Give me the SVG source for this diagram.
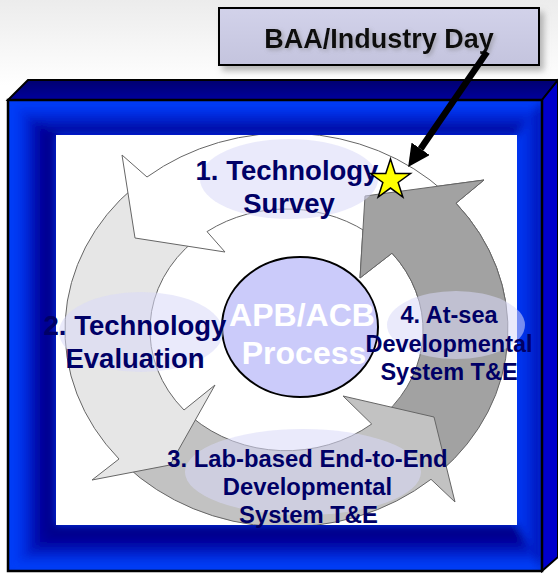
<svg xmlns="http://www.w3.org/2000/svg" width="558" height="573" viewBox="0 0 558 573">
<style>
.band{stroke:#666;stroke-width:1}
.lbl{fill:#d8d8f8;fill-opacity:0.55}
.t{font-family:"Liberation Sans",Arial,sans-serif;font-weight:bold;fill:#000066;text-anchor:middle}
.edge{stroke:#000;stroke-width:2.5;fill:none}
</style>
<defs>
<linearGradient id="bg" x1="0" y1="0" x2="0" y2="1">
<stop offset="0" stop-color="#ececec"/><stop offset="0.15" stop-color="#ffffff"/>
</linearGradient>
<linearGradient id="gL" x1="8" y1="0" x2="56" y2="0" gradientUnits="userSpaceOnUse">
<stop offset="0" stop-color="#0044ff"/><stop offset="0.3" stop-color="#0030e8"/><stop offset="0.7" stop-color="#000099"/><stop offset="1" stop-color="#000088"/>
</linearGradient>
<linearGradient id="gT" x1="0" y1="100" x2="0" y2="135" gradientUnits="userSpaceOnUse">
<stop offset="0" stop-color="#0044ff"/><stop offset="0.35" stop-color="#0030e8"/><stop offset="1" stop-color="#000090"/>
</linearGradient>
<linearGradient id="gB" x1="0" y1="525" x2="0" y2="571" gradientUnits="userSpaceOnUse">
<stop offset="0" stop-color="#000080"/><stop offset="0.35" stop-color="#000099"/><stop offset="0.8" stop-color="#0038f0"/><stop offset="1" stop-color="#0044ff"/>
</linearGradient>
<linearGradient id="gR" x1="517" y1="0" x2="542" y2="0" gradientUnits="userSpaceOnUse">
<stop offset="0" stop-color="#0036f4"/><stop offset="0.6" stop-color="#0028d8"/><stop offset="1" stop-color="#0000a0"/>
</linearGradient>
<linearGradient id="gTop" x1="0" y1="80" x2="0" y2="100" gradientUnits="userSpaceOnUse">
<stop offset="0" stop-color="#000070"/><stop offset="1" stop-color="#00009c"/>
</linearGradient>
<linearGradient id="gBox" x1="0" y1="0" x2="0" y2="1">
<stop offset="0" stop-color="#d2d2ea"/><stop offset="1" stop-color="#c4c4de"/>
</linearGradient>
<filter id="soft" x="-5%" y="-5%" width="110%" height="110%">
<feGaussianBlur stdDeviation="4"/>
</filter>
<filter id="shadow" x="-10%" y="-20%" width="130%" height="160%">
<feGaussianBlur in="SourceAlpha" stdDeviation="3"/>
<feOffset dx="4" dy="5" result="b"/>
<feFlood flood-color="#888" flood-opacity="0.6"/>
<feComposite in2="b" operator="in"/>
<feMerge><feMergeNode/><feMergeNode in="SourceGraphic"/></feMerge>
</filter>
<filter id="tshadow" x="-10%" y="-30%" width="120%" height="160%">
<feGaussianBlur in="SourceAlpha" stdDeviation="2"/>
<feOffset dx="2" dy="2" result="b"/>
<feFlood flood-color="#777" flood-opacity="0.5"/>
<feComposite in2="b" operator="in"/>
<feMerge><feMergeNode/><feMergeNode in="SourceGraphic"/></feMerge>
</filter>
<clipPath id="front"><rect x="8" y="100" width="534" height="471"/></clipPath>
<clipPath id="inner"><rect x="56" y="135" width="461" height="390"/></clipPath>
<clipPath id="tr"><rect x="340" y="140" width="180" height="160"/></clipPath>
<marker id="head" viewBox="0 -11 22 22" refX="0" refY="0" markerWidth="22" markerHeight="22" markerUnits="userSpaceOnUse" orient="auto">
<path d="M0,-11 L22,0 L0,11 Z" fill="#000"/>
</marker>
<path id="dband" d="M440,472 A221.5,197 0 0 0 456,203.2 L484,180 L365,196 L360,278 L392,253.2 A136.5,121 0 0 1 385,413.8 Z"/>
</defs>

<rect x="0" y="0" width="558" height="573" fill="url(#bg)"/>

<g id="frame">
<polygon points="8,100 28,80 558,80 542,100" fill="url(#gTop)" stroke="#000" stroke-width="2"/>
<polygon points="542,100 558,80 558,557 542,571" fill="#0000cc" stroke="#000" stroke-width="2"/>
<g clip-path="url(#front)">
<rect x="8" y="100" width="534" height="471" fill="#0038f0"/>
<g filter="url(#soft)">
<polygon points="8,100 56,135 56,525 8,571" fill="url(#gL)"/>
<polygon points="8,100 542,100 517,135 56,135" fill="url(#gT)"/>
<polygon points="8,571 542,571 517,525 56,525" fill="url(#gB)"/>
<polygon points="542,100 542,571 517,525 517,135" fill="url(#gR)"/>
</g>
</g>
<rect x="8" y="100" width="534" height="471" class="edge"/>
<rect x="56" y="135" width="461" height="390" fill="#ffffff"/>
</g>

<g id="cycle" clip-path="url(#inner)">
<use href="#dband" class="band" fill="#a2a2a2"/>
<path id="band3" class="band" fill="#c2c2c2" d="M125,464.8 A221.5,197 0 0 0 431,479.3 L455,502 L434,417 L343,396 L371.7,424 A136.5,121 0 0 1 192,417.3 Z"/>
<path id="band2" class="band" fill="#e6e6e6" d="M135,186.3 A221.5,197 0 0 0 119,459 L92,480 L170,465 L215,385 L184,410 A136.5,121 0 0 1 195,240.2 Z"/>
<path id="band1" class="band" fill="#ffffff" d="M445,192.4 A221.5,197 0 0 0 147,177 L122,155 L135,238 L225,252 L207,231.6 A136.5,121 0 0 1 375,237.9 Z"/>
<use href="#dband" class="band" fill="#a2a2a2" clip-path="url(#tr)"/>
</g>

<g id="center">
<ellipse cx="300" cy="327" rx="78" ry="70" fill="#cbcbfa" stroke="#000" stroke-width="2"/>
<text class="t" x="302" y="326" font-size="32" style="fill:#ffffff">APB/ACB</text>
<text class="t" x="304" y="364" font-size="32" style="fill:#ffffff">Process</text>
</g>

<g id="step1">
<ellipse class="lbl" cx="289" cy="179" rx="89" ry="40"/>
<text class="t" x="287" y="180" font-size="27.5">1. Technology</text>
<text class="t" x="289" y="213" font-size="27.5">Survey</text>
</g>
<g id="step2">
<ellipse class="lbl" cx="141" cy="332" rx="82" ry="40"/>
<text class="t" x="135" y="335" font-size="27.5">2. Technology</text>
<text class="t" x="135" y="368" font-size="27.5">Evaluation</text>
</g>
<g id="step3">
<ellipse class="lbl" cx="303" cy="472" rx="118" ry="43"/>
<text class="t" x="307.5" y="467" font-size="23.8">3. Lab-based End-to-End</text>
<text class="t" x="307.5" y="495" font-size="23.8">Developmental</text>
<text class="t" x="308.5" y="523" font-size="23.8">System T&amp;E</text>
</g>
<g id="step4">
<ellipse class="lbl" cx="456" cy="325" rx="69" ry="34"/>
<text class="t" x="449" y="323" font-size="23.5">4. At-sea</text>
<text class="t" x="449" y="352" font-size="23.5">Developmental</text>
<text class="t" x="449" y="380" font-size="23.5">System T&amp;E</text>
</g>

<g id="star">
<polygon points="390.5,159 395.22,173.5 410.47,173.51 398.14,182.48 402.84,196.99 390.5,188.03 378.16,196.99 382.86,182.48 370.53,173.51 385.78,173.5" fill="#ffff00" stroke="#000" stroke-width="1.5" stroke-linejoin="miter"/>
</g>

<g id="baa">
<rect x="219" y="8" width="320" height="57" fill="url(#gBox)" stroke="#000" stroke-width="2" filter="url(#shadow)"/>
<text x="379" y="48" font-family="'Liberation Sans',Arial,sans-serif" font-weight="bold" font-size="27" fill="#111" text-anchor="middle" filter="url(#tshadow)">BAA/Industry Day</text>
</g>

<g id="connectors">
<line x1="487" y1="52" x2="420.6" y2="148.8" stroke="#000" stroke-width="6.5" marker-end="url(#head)"/>
</g>
</svg>
